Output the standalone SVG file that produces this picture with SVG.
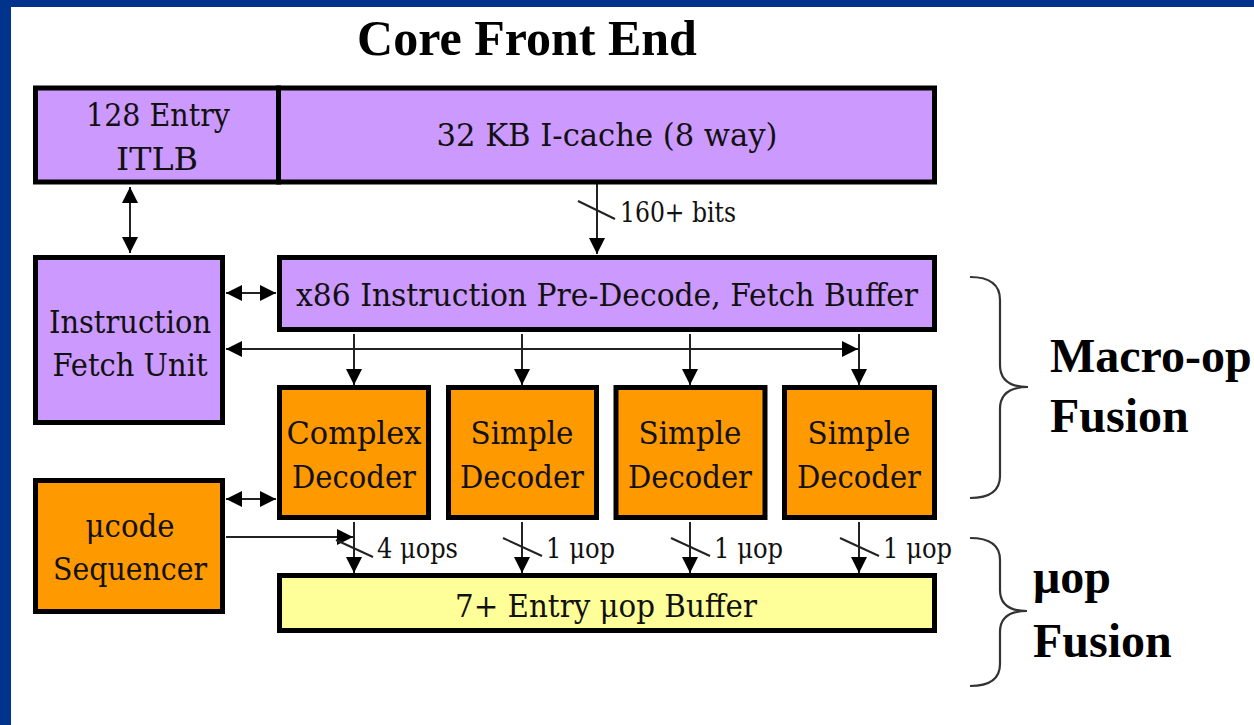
<svg xmlns="http://www.w3.org/2000/svg" width="1254" height="725" viewBox="0 0 1254 725">
  <defs>
    <style>
      .box { stroke: #000; stroke-width: 5; }
      .purple { fill: #CC99FF; }
      .orange { fill: #FF9900; }
      .yellow { fill: #FFFF99; }
      .serif { font-family: "DejaVu Serif Condensed", "DejaVu Serif", serif; }
      .lbl { font-size: 32px; fill: #111; text-anchor: middle; }
      .small { font-size: 27px; fill: #111; }
      .title { font-family: "Liberation Serif", serif; font-weight: bold; fill: #000; }
      .wire { stroke: #222; stroke-width: 2; fill: none; }
      .brace { stroke: #333; stroke-width: 2.2; fill: none; }
    </style>
    <marker id="ah" viewBox="0 0 16 16" markerWidth="16" markerHeight="16" refX="16" refY="8" orient="auto-start-reverse" markerUnits="userSpaceOnUse">
      <path d="M0,0 L16,8 L0,16 z" fill="#000"/>
    </marker>
  </defs>

  <!-- slide frame -->
  <rect x="0" y="0" width="1254" height="725" fill="#ffffff"/>
  <rect x="0" y="0" width="1254" height="7" fill="#00338C"/>
  <rect x="0" y="0" width="11" height="725" fill="#00338C"/>

  <text class="title" x="527" y="55" font-size="50" text-anchor="middle">Core Front End</text>

  <!-- connectors -->
  <g id="connectors">
    <line class="wire" x1="130" y1="187" x2="130" y2="253" marker-start="url(#ah)" marker-end="url(#ah)"/>
    <line class="wire" x1="597" y1="184" x2="597" y2="254" marker-end="url(#ah)"/>
    <line class="wire" x1="578" y1="201" x2="615" y2="219"/>
    <line class="wire" x1="226" y1="293" x2="276" y2="293" marker-start="url(#ah)" marker-end="url(#ah)"/>
    <line class="wire" x1="226" y1="349" x2="858" y2="349" marker-start="url(#ah)" marker-end="url(#ah)"/>
    <line class="wire" x1="354" y1="334" x2="354" y2="385" marker-end="url(#ah)"/>
    <line class="wire" x1="522" y1="334" x2="522" y2="385" marker-end="url(#ah)"/>
    <line class="wire" x1="690" y1="334" x2="690" y2="385" marker-end="url(#ah)"/>
    <line class="wire" x1="859" y1="334" x2="859" y2="385" marker-end="url(#ah)"/>
    <line class="wire" x1="226" y1="499" x2="276" y2="499" marker-start="url(#ah)" marker-end="url(#ah)"/>
    <line class="wire" x1="226" y1="537" x2="353" y2="537" marker-end="url(#ah)"/>
    <line class="wire" x1="354" y1="522" x2="354" y2="573" marker-end="url(#ah)"/>
    <line class="wire" x1="522" y1="522" x2="522" y2="573" marker-end="url(#ah)"/>
    <line class="wire" x1="690" y1="522" x2="690" y2="573" marker-end="url(#ah)"/>
    <line class="wire" x1="859" y1="522" x2="859" y2="573" marker-end="url(#ah)"/>
    <line class="wire" x1="336" y1="540" x2="373" y2="557"/>
    <line class="wire" x1="503" y1="538" x2="542" y2="556"/>
    <line class="wire" x1="671" y1="538" x2="710" y2="556"/>
    <line class="wire" x1="840" y1="538" x2="879" y2="556"/>
  </g>
  <text class="serif small" x="620" y="222" textLength="116" lengthAdjust="spacingAndGlyphs">160+ bits</text>
  <text class="serif small" x="377" y="558" textLength="81" lengthAdjust="spacingAndGlyphs">4 μops</text>
  <text class="serif small" x="546" y="558" textLength="69" lengthAdjust="spacingAndGlyphs">1 μop</text>
  <text class="serif small" x="714" y="558" textLength="69" lengthAdjust="spacingAndGlyphs">1 μop</text>
  <text class="serif small" x="883" y="558" textLength="69" lengthAdjust="spacingAndGlyphs">1 μop</text>

  <!-- nodes -->
  <g id="itlb">
    <rect class="box purple" x="35.5" y="88" width="243" height="94"/>
    <text class="serif lbl" x="158" y="126" textLength="144" lengthAdjust="spacingAndGlyphs">128 Entry</text>
    <text class="serif lbl" x="157" y="170" textLength="82" lengthAdjust="spacingAndGlyphs">ITLB</text>
  </g>
  <g id="icache">
    <rect class="box purple" x="278.5" y="88" width="656" height="94"/>
    <text class="serif lbl" x="607" y="146" textLength="341" lengthAdjust="spacingAndGlyphs">32 KB I-cache (8 way)</text>
  </g>
  <g id="fetch-unit">
    <rect class="box purple" x="35.5" y="257.5" width="187" height="165"/>
    <text class="serif lbl" x="130" y="333" textLength="162" lengthAdjust="spacingAndGlyphs">Instruction</text>
    <text class="serif lbl" x="130" y="376" textLength="155" lengthAdjust="spacingAndGlyphs">Fetch Unit</text>
  </g>
  <g id="predecode">
    <rect class="box purple" x="279.5" y="257.5" width="655" height="72"/>
    <text class="serif lbl" x="607" y="306" textLength="622" lengthAdjust="spacingAndGlyphs">x86 Instruction Pre-Decode, Fetch Buffer</text>
  </g>
  <g id="complex-decoder">
    <rect class="box orange" x="279.5" y="387.5" width="149" height="130"/>
    <text class="serif lbl" x="354" y="444" textLength="135" lengthAdjust="spacingAndGlyphs">Complex</text>
    <text class="serif lbl" x="354" y="488" textLength="124" lengthAdjust="spacingAndGlyphs">Decoder</text>
  </g>
  <g id="simple-decoder-1">
    <rect class="box orange" x="448.5" y="387.5" width="148" height="130"/>
    <text class="serif lbl" x="522" y="444" textLength="103" lengthAdjust="spacingAndGlyphs">Simple</text>
    <text class="serif lbl" x="522" y="488" textLength="124" lengthAdjust="spacingAndGlyphs">Decoder</text>
  </g>
  <g id="simple-decoder-2">
    <rect class="box orange" x="616" y="387.5" width="149" height="130"/>
    <text class="serif lbl" x="690" y="444" textLength="103" lengthAdjust="spacingAndGlyphs">Simple</text>
    <text class="serif lbl" x="690" y="488" textLength="124" lengthAdjust="spacingAndGlyphs">Decoder</text>
  </g>
  <g id="simple-decoder-3">
    <rect class="box orange" x="784.5" y="387.5" width="150" height="130"/>
    <text class="serif lbl" x="859" y="444" textLength="103" lengthAdjust="spacingAndGlyphs">Simple</text>
    <text class="serif lbl" x="859" y="488" textLength="124" lengthAdjust="spacingAndGlyphs">Decoder</text>
  </g>
  <g id="ucode-sequencer">
    <rect class="box orange" x="35.5" y="480.5" width="187" height="131"/>
    <text class="serif lbl" x="130" y="537" textLength="89" lengthAdjust="spacingAndGlyphs">μcode</text>
    <text class="serif lbl" x="130" y="580" textLength="154" lengthAdjust="spacingAndGlyphs">Sequencer</text>
  </g>
  <g id="uop-buffer">
    <rect class="box yellow" x="279.5" y="575.5" width="655" height="55"/>
    <text class="serif lbl" x="606" y="617" textLength="302" lengthAdjust="spacingAndGlyphs">7+ Entry μop Buffer</text>
  </g>

  <!-- fusion braces -->
  <g id="macro-op-fusion">
    <path class="brace" d="M970,277 Q1000,277 1000,300 L1000,365 Q1000,387 1028,387 Q1000,387 1000,409 L1000,476 Q1000,498 970,498"/>
    <text class="title" x="1050" y="372" font-size="48">Macro-op</text>
    <text class="title" x="1050" y="432" font-size="48">Fusion</text>
  </g>
  <g id="uop-fusion">
    <path class="brace" d="M970,538 Q1000,538 1000,560 L1000,590 Q1000,611 1027,611 Q1000,611 1000,632 L1000,664 Q1000,686 970,686"/>
    <text class="title" x="1033" y="593" font-size="48">μop</text>
    <text class="title" x="1033" y="657" font-size="48">Fusion</text>
  </g>
</svg>
